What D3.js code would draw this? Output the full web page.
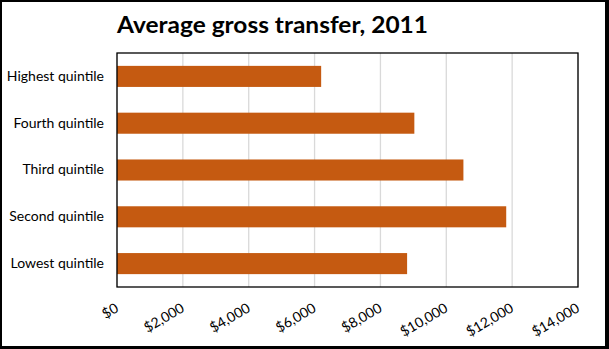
<!DOCTYPE html>
<html><head><meta charset="utf-8">
<script src="https://cdn.jsdelivr.net/npm/d3@7"></script>
<style>body{margin:0;background:#fff}svg{display:block}</style>
</head><body>
<svg id="c" width="609" height="349"></svg>
<script>
const title = "Average gross transfer, 2011";
const categories = ["Highest quintile","Fourth quintile","Third quintile","Second quintile","Lowest quintile"];
const values = [6200, 9030, 10520, 11820, 8810];
const tickValues = [0,2000,4000,6000,8000,10000,12000,14000];

const svg = d3.select("#c");
const font = "Lato, 'Open Sans', sans-serif";
const L=117, R=578, T=53, B=287;
const x = d3.scaleLinear().domain([0,14000]).range([L,R]);
const y = d3.scaleBand().domain(categories).range([T,B]).paddingInner(0.55).paddingOuter(0.275);

svg.append("rect").attr("width",609).attr("height",349).attr("fill","#fff");

// gridlines
svg.append("g").selectAll("line").data(tickValues).join("line")
  .attr("x1",d=>x(d)).attr("x2",d=>x(d)).attr("y1",T).attr("y2",B)
  .attr("stroke","#d9d9d9").attr("stroke-width",1.3);

// bars
svg.append("g").selectAll("rect").data(values).join("rect")
  .attr("x",x(0)).attr("y",(d,i)=>y(categories[i]))
  .attr("width",d=>x(d)-x(0)).attr("height",y.bandwidth())
  .attr("fill","#C55A11");

// plot border
svg.append("rect").attr("x",L).attr("y",T).attr("width",R-L).attr("height",B-T)
  .attr("fill","none").attr("stroke","#000").attr("stroke-width",1.3);

// y axis labels
const ya = svg.append("g").attr("transform",`translate(${L},0)`)
  .call(d3.axisLeft(y).tickSize(0).tickPadding(13));
ya.select(".domain").remove();
ya.selectAll("text").attr("font-family",font).attr("font-size",14).attr("fill","#000");

// x axis labels
const xa = svg.append("g").attr("transform",`translate(0,${B})`)
  .call(d3.axisBottom(x).tickValues(tickValues).tickSize(0).tickFormat(d3.format("$,")));
xa.select(".domain").remove();
xa.selectAll("text").attr("font-family",font).attr("font-size",14).attr("fill","#000")
  .attr("text-anchor","end").attr("dy",null).attr("y",0)
  .attr("transform","translate(2,24) rotate(-30)");

// title
svg.append("text").attr("x",117).attr("y",33).attr("font-family",font)
  .attr("font-weight","bold").attr("font-size",23).attr("fill","#000")
  .attr("textLength",311).attr("lengthAdjust","spacingAndGlyphs").text(title);

// outer border
svg.append("rect").attr("x",0).attr("y",0).attr("width",609).attr("height",2).attr("fill","#000");
svg.append("rect").attr("x",0).attr("y",0).attr("width",2).attr("height",349).attr("fill","#000");
svg.append("rect").attr("x",605).attr("y",0).attr("width",4).attr("height",349).attr("fill","#000");
svg.append("rect").attr("x",0).attr("y",346).attr("width",609).attr("height",3).attr("fill","#000");
</script>
</body></html>
